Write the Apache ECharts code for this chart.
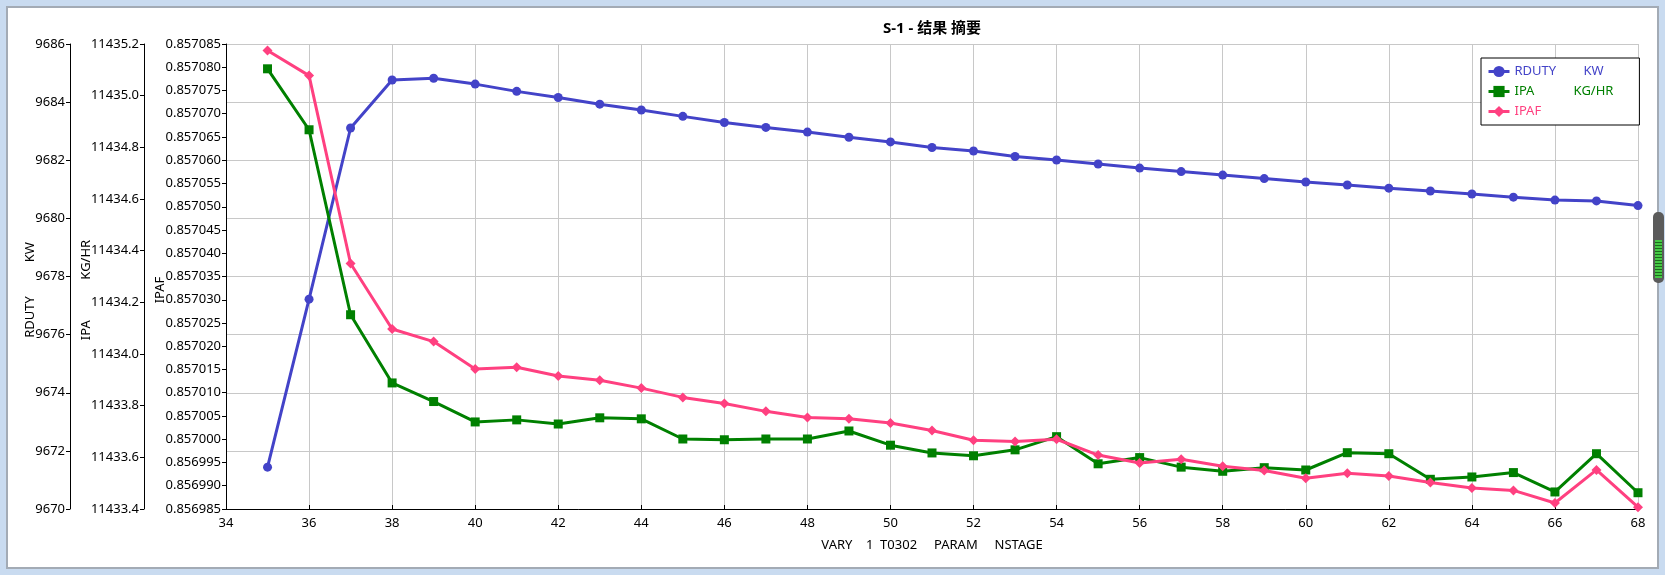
<!DOCTYPE html>
<html>
<head>
<meta charset="utf-8">
<script src="https://cdn.jsdelivr.net/npm/echarts@6/dist/echarts.min.js"></script>
<style>
  html, body { margin: 0; padding: 0; background: #c9dbf0; }
  #frame { position: absolute; left: 6px; top: 6px; width: 1649px; height: 559px; background: #fff; border: 2px solid #a3abb5; }
  #chart { position: absolute; left: 0; top: 0; width: 1665px; height: 575px; }
  #grip { position: absolute; left: 1653px; top: 212px; width: 11px; height: 71px; background: #5b5b5b; border-radius: 5px; }
  #grip div { position: absolute; left: 2px; top: 28px; width: 7px; height: 38px;
    background: repeating-linear-gradient(#45c845 0 2px, #1d6b1d 2px 3px); }
</style>
</head>
<body>
<div id="frame"></div>
<div id="grip"><div></div></div>
<div id="chart"></div>
<script>
// 级数
var stages = [35, 36, 37, 38, 39, 40, 41, 42, 43, 44, 45, 46, 47, 48, 49, 50, 51,
  52, 53, 54, 55, 56, 57, 58, 59, 60, 61, 62, 63, 64, 65, 66, 67, 68];

// RDUTY  KW
var rduty = [9671.44, 9677.22, 9683.11, 9684.76, 9684.82, 9684.62, 9684.37, 9684.16,
  9683.93, 9683.73, 9683.51, 9683.30, 9683.13, 9682.97, 9682.79, 9682.63, 9682.44,
  9682.32, 9682.13, 9682.01, 9681.87, 9681.73, 9681.61, 9681.49, 9681.37, 9681.25,
  9681.15, 9681.04, 9680.94, 9680.84, 9680.73, 9680.63, 9680.60, 9680.44];

// IPA  KG/HR
var ipa = [11435.104, 11434.868, 11434.152, 11433.888, 11433.816, 11433.737, 11433.745,
  11433.729, 11433.753, 11433.749, 11433.671, 11433.668, 11433.671, 11433.671, 11433.702,
  11433.647, 11433.617, 11433.606, 11433.629, 11433.680, 11433.575, 11433.599, 11433.562,
  11433.546, 11433.560, 11433.551, 11433.618, 11433.614, 11433.515, 11433.524, 11433.541,
  11433.466, 11433.614, 11433.463];

// IPAF
var ipaf = [0.8570836, 0.8570782, 0.8570378, 0.8570237, 0.8570210, 0.8570151, 0.8570155,
  0.8570136, 0.8570127, 0.8570110, 0.8570090, 0.8570077, 0.8570060, 0.8570047, 0.8570044,
  0.8570035, 0.8570019, 0.8569998, 0.8569995, 0.8570000, 0.8569966, 0.8569949, 0.8569957,
  0.8569942, 0.8569933, 0.8569916, 0.8569927, 0.8569921, 0.8569907, 0.8569895, 0.8569890,
  0.8569863, 0.8569934, 0.8569854];

var seriesNames = ['RDUTY', 'IPA', 'IPAF'];
var seriesUnits = ['KW', 'KG/HR', ''];
var seriesColors = ['#4343c8', '#008000', '#ff4080'];
var seriesSymbols = ['circle', 'rect', 'diamond'];
var symbolSizes = [9, 9, 10];

var font = '"Noto Sans", "Noto Sans CJK SC", sans-serif';

function pairs(ys) {
  return stages.map(function (x, i) { return [x, ys[i]]; });
}

var legendRich = {};
var richKeys = ['a', 'b', 'c'];
richKeys.forEach(function (k, i) {
  legendRich[k + 'n'] = { color: seriesColors[i], width: 58, fontSize: 13, fontFamily: font };
  legendRich[k + 'u'] = { color: seriesColors[i], width: 42, align: 'center', fontSize: 13, fontFamily: font };
});

function yAxisBase(extra) {
  var ax = {
    type: 'value',
    position: 'left',
    nameLocation: 'middle',
    nameRotate: 90,
    nameMoveOverlap: false,
    nameTextStyle: { color: '#000', fontSize: 13, fontFamily: font, padding: [0, 27, 0, 0] },
    axisLine: { show: true, lineStyle: { color: '#000', width: 1 } },
    axisTick: { show: true, inside: false, length: 4, lineStyle: { color: '#000' } },
    axisLabel: { color: '#000', fontSize: 13, fontFamily: font, margin: 5 },
    splitLine: { show: false }
  };
  for (var k in extra) ax[k] = extra[k];
  return ax;
}

var chart = echarts.init(document.getElementById('chart'), null, { renderer: 'canvas' });

chart.setOption({
  backgroundColor: 'transparent',
  animation: false,
  title: {
    text: 'S-1 - 结果 摘要',
    left: 932,
    top: 21,
    padding: 0,
    textAlign: 'center',
    textStyle: { color: '#000', fontSize: 15, fontWeight: 'bold', fontFamily: font }
  },
  legend: {
    orient: 'vertical',
    left: 1481,
    top: 58,
    padding: [7, 26, 7, 6],
    itemWidth: 21,
    itemHeight: 14,
    itemGap: 7,
    borderColor: '#000',
    borderWidth: 1,
    borderRadius: 0,
    backgroundColor: '#fff',
    lineStyle: { width: 3 },
    data: seriesNames,
    formatter: function (name) {
      var i = seriesNames.indexOf(name);
      return '{' + richKeys[i] + 'n|' + name + '}{' + richKeys[i] + 'u|' + seriesUnits[i] + '}';
    },
    textStyle: { rich: legendRich }
  },
  grid: { left: 226, top: 44, width: 1412, height: 465, containLabel: false },
  xAxis: {
    type: 'value',
    min: 34,
    max: 68,
    interval: 2,
    name: 'VARY    1  T0302     PARAM     NSTAGE',
    nameLocation: 'middle',
    nameGap: 30,
    nameMoveOverlap: false,
    nameTextStyle: { color: '#000', fontSize: 13, fontFamily: font },
    axisLine: { show: true, lineStyle: { color: '#000', width: 1 } },
    axisTick: { show: true, inside: true, length: 4, lineStyle: { color: '#000' } },
    axisLabel: { color: '#000', fontSize: 13, fontFamily: font, margin: 8 },
    splitLine: { show: true, lineStyle: { color: '#c8c8c8', width: 1 } }
  },
  yAxis: [
    yAxisBase({
      name: 'RDUTY          KW',
      nameGap: 33,
      offset: 156,
      min: 9670,
      max: 9686,
      interval: 2,
      axisLabel: {
        color: '#000', fontSize: 13, fontFamily: font, margin: 5,
        formatter: function (v) { return String(v); }
      },
      splitLine: { show: true, lineStyle: { color: '#c8c8c8', width: 1 } }
    }),
    yAxisBase({
      name: 'IPA            KG/HR',
      nameGap: 51,
      offset: 82,
      min: 11433.4,
      max: 11435.2,
      interval: 0.2,
      axisLabel: {
        color: '#000', fontSize: 13, fontFamily: font, margin: 5,
        formatter: function (v) { return v.toFixed(1); }
      }
    }),
    yAxisBase({
      name: 'IPAF',
      nameGap: 59,
      offset: 0,
      min: 0.856985,
      max: 0.857085,
      interval: 0.000005,
      axisLabel: {
        color: '#000', fontSize: 13, fontFamily: font, margin: 5,
        formatter: function (v) { return v.toFixed(6); }
      }
    })
  ],
  series: [rduty, ipa, ipaf].map(function (ys, i) {
    return {
      name: seriesNames[i],
      type: 'line',
      yAxisIndex: i,
      data: pairs(ys),
      symbol: seriesSymbols[i],
      symbolSize: symbolSizes[i],
      showAllSymbol: true,
      color: seriesColors[i],
      lineStyle: { color: seriesColors[i], width: 3 },
      itemStyle: { color: seriesColors[i] },
      z: 2 + i
    };
  })
});
</script>
</body>
</html>
